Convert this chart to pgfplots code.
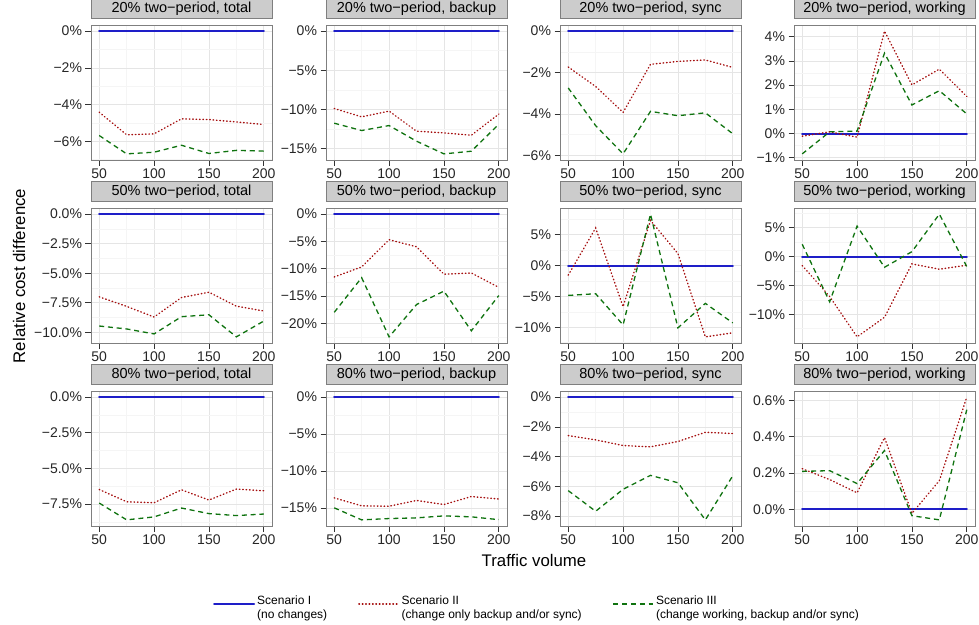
\documentclass[border=0pt]{standalone}
\usepackage{fontspec}
\setmainfont{Liberation Sans}
\usepackage{pgfplots}
\pgfplotsset{compat=1.18}
\definecolor{cI}{RGB}{30,30,200}
\definecolor{cII}{RGB}{165,15,15}
\definecolor{cIII}{RGB}{15,115,15}
\definecolor{gmaj}{RGB}{229,229,229}
\definecolor{gmin}{RGB}{245,245,245}
\definecolor{strip}{RGB}{204,204,204}
\definecolor{frame}{RGB}{127,127,127}
\pgfplotsset{
  facet/.style={
    scale only axis, width=181pt, height=135pt,
    xmin=42.5, xmax=207.5, enlarge y limits=0.05,
    xtick={50,100,150,200}, minor xtick={75,125,175},
    grid=both,
    major grid style={draw=gmaj, line width=0.6pt},
    minor grid style={draw=gmin, line width=0.6pt},
    axis line style={draw=frame, line width=0.6pt},
    tick pos=left, tick align=outside,
    major tick length=5.5pt, minor tick length=0pt,
    major tick style={draw=black!80, line width=0.6pt},
    ticklabel style={font=\fontsize{14}{14}\selectfont, text=black!85},
    /pgf/number format/assume math mode=true,
    title style={at={(0.5,1)}, anchor=south, fill=strip, draw=frame, line width=0.6pt,
      minimum width=181pt, minimum height=20pt, inner sep=0pt, yshift=0pt,
      font=\fontsize{14.5}{14.5}\selectfont},
  },
  sI/.style={color=cI, solid, line width=2pt, line join=round, line cap=round, no marks},
  sII/.style={color=cII, line width=1.4pt, no marks, line cap=round, dash pattern=on 0.6pt off 2.8pt},
  sIII/.style={color=cIII, line width=1.3pt, no marks, dash pattern=on 5pt off 3.8pt},
}
\begin{document}
\begin{tikzpicture}
\useasboundingbox (0pt,0pt) rectangle (979pt,-624pt);
% ---------- Row 1 ----------
\begin{axis}[facet, at={(91pt,-160pt)}, anchor=south west,
  title={20\% two−period, total},
  ytick={-6,-4,-2,0}, yticklabels={−6\%,−4\%,−2\%,0\%}, minor ytick={-7,-5,-3,-1}]
\addplot[sI] coordinates {(50,0)(75,0)(100,0)(125,0)(150,0)(175,0)(200,0)};
\addplot[sII] coordinates {(50,-4.42)(75,-5.65)(100,-5.6)(125,-4.78)(150,-4.82)(175,-4.95)(200,-5.09)};
\addplot[sIII] coordinates {(50,-5.69)(75,-6.69)(100,-6.6)(125,-6.22)(150,-6.67)(175,-6.5)(200,-6.54)};
\end{axis}
\begin{axis}[facet, at={(326pt,-160pt)}, anchor=south west,
  title={20\% two−period, backup},
  ytick={-15,-10,-5,0}, yticklabels={−15\%,−10\%,−5\%,0\%}, minor ytick={-12.5,-7.5,-2.5}]
\addplot[sI] coordinates {(50,0)(75,0)(100,0)(125,0)(150,0)(175,0)(200,0)};
\addplot[sII] coordinates {(50,-9.88)(75,-10.95)(100,-10.22)(125,-12.78)(150,-13.0)(175,-13.3)(200,-10.6)};
\addplot[sIII] coordinates {(50,-11.76)(75,-12.7)(100,-12.06)(125,-14.06)(150,-15.68)(175,-15.34)(200,-11.9)};
\end{axis}
\begin{axis}[facet, at={(560pt,-160pt)}, anchor=south west,
  title={20\% two−period, sync},
  ytick={-6,-4,-2,0}, yticklabels={−6\%,−4\%,−2\%,0\%}, minor ytick={-5,-3,-1}]
\addplot[sI] coordinates {(50,0)(75,0)(100,0)(125,0)(150,0)(175,0)(200,0)};
\addplot[sII] coordinates {(50,-1.73)(75,-2.67)(100,-3.92)(125,-1.6)(150,-1.46)(175,-1.39)(200,-1.75)};
\addplot[sIII] coordinates {(50,-2.74)(75,-4.56)(100,-5.92)(125,-3.87)(150,-4.08)(175,-3.94)(200,-4.95)};
\end{axis}
\begin{axis}[facet, at={(794pt,-160pt)}, anchor=south west,
  title={20\% two−period, working},
  ytick={-1,0,1,2,3,4}, yticklabels={−1\%,0\%,1\%,2\%,3\%,4\%}, minor ytick={-0.5,0.5,1.5,2.5,3.5}]
\addplot[sI] coordinates {(50,0)(75,0)(100,0)(125,0)(150,0)(175,0)(200,0)};
\addplot[sII] coordinates {(50,-0.11)(75,0.07)(100,-0.15)(125,4.23)(150,2.01)(175,2.66)(200,1.53)};
\addplot[sIII] coordinates {(50,-0.84)(75,0.07)(100,0.1)(125,3.32)(150,1.18)(175,1.77)(200,0.81)};
\end{axis}
% ---------- Row 2 ----------
\begin{axis}[facet, at={(91pt,-343pt)}, anchor=south west,
  title={50\% two−period, total},
  ytick={-10,-7.5,-5,-2.5,0}, yticklabels={−10.0\%,−7.5\%,−5.0\%,−2.5\%,0.0\%}, minor ytick={-8.75,-6.25,-3.75,-1.25}]
\addplot[sI] coordinates {(50,0)(75,0)(100,0)(125,0)(150,0)(175,0)(200,0)};
\addplot[sII] coordinates {(50,-7.0)(75,-7.81)(100,-8.71)(125,-7.06)(150,-6.61)(175,-7.79)(200,-8.2)};
\addplot[sIII] coordinates {(50,-9.47)(75,-9.72)(100,-10.14)(125,-8.68)(150,-8.52)(175,-10.39)(200,-9.05)};
\end{axis}
\begin{axis}[facet, at={(326pt,-343pt)}, anchor=south west,
  title={50\% two−period, backup},
  ytick={-20,-15,-10,-5,0}, yticklabels={−20\%,−15\%,−10\%,−5\%,0\%}, minor ytick={-22.5,-17.5,-12.5,-7.5,-2.5}]
\addplot[sI] coordinates {(50,0)(75,0)(100,0)(125,0)(150,0)(175,0)(200,0)};
\addplot[sII] coordinates {(50,-11.5)(75,-9.66)(100,-4.68)(125,-5.97)(150,-11.0)(175,-10.77)(200,-13.4)};
\addplot[sIII] coordinates {(50,-17.97)(75,-11.63)(100,-22.46)(125,-16.55)(150,-14.09)(175,-21.35)(200,-14.9)};
\end{axis}
\begin{axis}[facet, at={(560pt,-343pt)}, anchor=south west,
  title={50\% two−period, sync},
  ytick={-10,-5,0,5}, yticklabels={−10\%,−5\%,0\%,5\%}, minor ytick={-12.5,-7.5,-2.5,2.5,7.5}]
\addplot[sI] coordinates {(50,0)(75,0)(100,0)(125,0)(150,0)(175,0)(200,0)};
\addplot[sII] coordinates {(50,-1.56)(75,6.08)(100,-6.67)(125,7.31)(150,1.94)(175,-11.56)(200,-10.9)};
\addplot[sIII] coordinates {(50,-4.84)(75,-4.57)(100,-9.62)(125,8.33)(150,-10.1)(175,-6.13)(200,-9.3)};
\end{axis}
\begin{axis}[facet, at={(794pt,-343pt)}, anchor=south west,
  title={50\% two−period, working},
  ytick={-15,-10,-5,0,5}, yticklabels={−15\%,−10\%,−5\%,0\%,5\%}, minor ytick={-12.5,-7.5,-2.5,2.5,7.5}]
\addplot[sI] coordinates {(50,0)(75,0)(100,0)(125,0)(150,0)(175,0)(200,0)};
\addplot[sII] coordinates {(50,-1.55)(75,-6.9)(100,-13.9)(125,-10.5)(150,-1.26)(175,-2.18)(200,-1.49)};
\addplot[sIII] coordinates {(50,2.13)(75,-7.82)(100,5.29)(125,-1.84)(150,0.86)(175,7.36)(200,-1.72)};
\end{axis}
% ---------- Row 3 ----------
\begin{axis}[facet, at={(91pt,-526pt)}, anchor=south west,
  title={80\% two−period, total},
  ytick={-7.5,-5,-2.5,0}, yticklabels={−7.5\%,−5.0\%,−2.5\%,0.0\%}, minor ytick={-8.75,-6.25,-3.75,-1.25}]
\addplot[sI] coordinates {(50,0)(75,0)(100,0)(125,0)(150,0)(175,0)(200,0)};
\addplot[sII] coordinates {(50,-6.48)(75,-7.34)(100,-7.41)(125,-6.5)(150,-7.22)(175,-6.45)(200,-6.57)};
\addplot[sIII] coordinates {(50,-7.43)(75,-8.61)(100,-8.4)(125,-7.78)(150,-8.17)(175,-8.31)(200,-8.2)};
\end{axis}
\begin{axis}[facet, at={(326pt,-526pt)}, anchor=south west,
  title={80\% two−period, backup},
  ytick={-15,-10,-5,0}, yticklabels={−15\%,−10\%,−5\%,0\%}, minor ytick={-12.5,-7.5,-2.5},
  legend columns=3,
  legend style={at={(axis description cs:-0.641,-0.578)}, anchor=west, draw=none, fill=none,
    font=\fontsize{12}{14}\selectfont, cells={anchor=west},
    /tikz/every even column/.append style={column sep=29pt},
    /tikz/every odd column/.append style={column sep=0pt}},
  legend image code/.code={\draw[#1] (0pt,0pt) -- (40pt,0pt);}]
\addplot[sI] coordinates {(50,0)(75,0)(100,0)(125,0)(150,0)(175,0)(200,0)};
\addlegendentry{\begin{tabular}{@{}l@{}}Scenario I\\(no changes)\end{tabular}}
\addplot[sII] coordinates {(50,-13.65)(75,-14.73)(100,-14.78)(125,-14.0)(150,-14.55)(175,-13.47)(200,-13.8)};
\addlegendentry{\begin{tabular}{@{}l@{}}Scenario II\\(change only backup and/or sync)\end{tabular}}
\addplot[sIII] coordinates {(50,-15.0)(75,-16.63)(100,-16.45)(125,-16.36)(150,-16.09)(175,-16.22)(200,-16.6)};
\addlegendentry{\begin{tabular}{@{}l@{}}Scenario III\\(change working, backup and/or sync)\end{tabular}}
\end{axis}
\begin{axis}[facet, at={(560pt,-526pt)}, anchor=south west,
  title={80\% two−period, sync},
  ytick={-8,-6,-4,-2,0}, yticklabels={−8\%,−6\%,−4\%,−2\%,0\%}, minor ytick={-7,-5,-3,-1}]
\addplot[sI] coordinates {(50,0)(75,0)(100,0)(125,0)(150,0)(175,0)(200,0)};
\addplot[sII] coordinates {(50,-2.59)(75,-2.88)(100,-3.26)(125,-3.35)(150,-2.99)(175,-2.37)(200,-2.45)};
\addplot[sIII] coordinates {(50,-6.3)(75,-7.69)(100,-6.21)(125,-5.27)(150,-5.77)(175,-8.27)(200,-5.3)};
\end{axis}
\begin{axis}[facet, at={(794pt,-526pt)}, anchor=south west,
  title={80\% two−period, working},
  ytick={0,0.2,0.4,0.6}, yticklabels={0.0\%,0.2\%,0.4\%,0.6\%}, minor ytick={0.1,0.3,0.5}]
\addplot[sI] coordinates {(50,0)(75,0)(100,0)(125,0)(150,0)(175,0)(200,0)};
\addplot[sII] coordinates {(50,0.224)(75,0.164)(100,0.091)(125,0.395)(150,-0.022)(175,0.158)(200,0.618)};
\addplot[sIII] coordinates {(50,0.209)(75,0.213)(100,0.142)(125,0.324)(150,-0.035)(175,-0.058)(200,0.549)};
\end{axis}
\node[rotate=90, font=\fontsize{16.8}{16.8}\selectfont] at (19pt,-276pt) {Relative cost difference};
\node[font=\fontsize{16.8}{16.8}\selectfont] at (534pt,-560pt) {Traffic volume};
\end{tikzpicture}
\end{document}
